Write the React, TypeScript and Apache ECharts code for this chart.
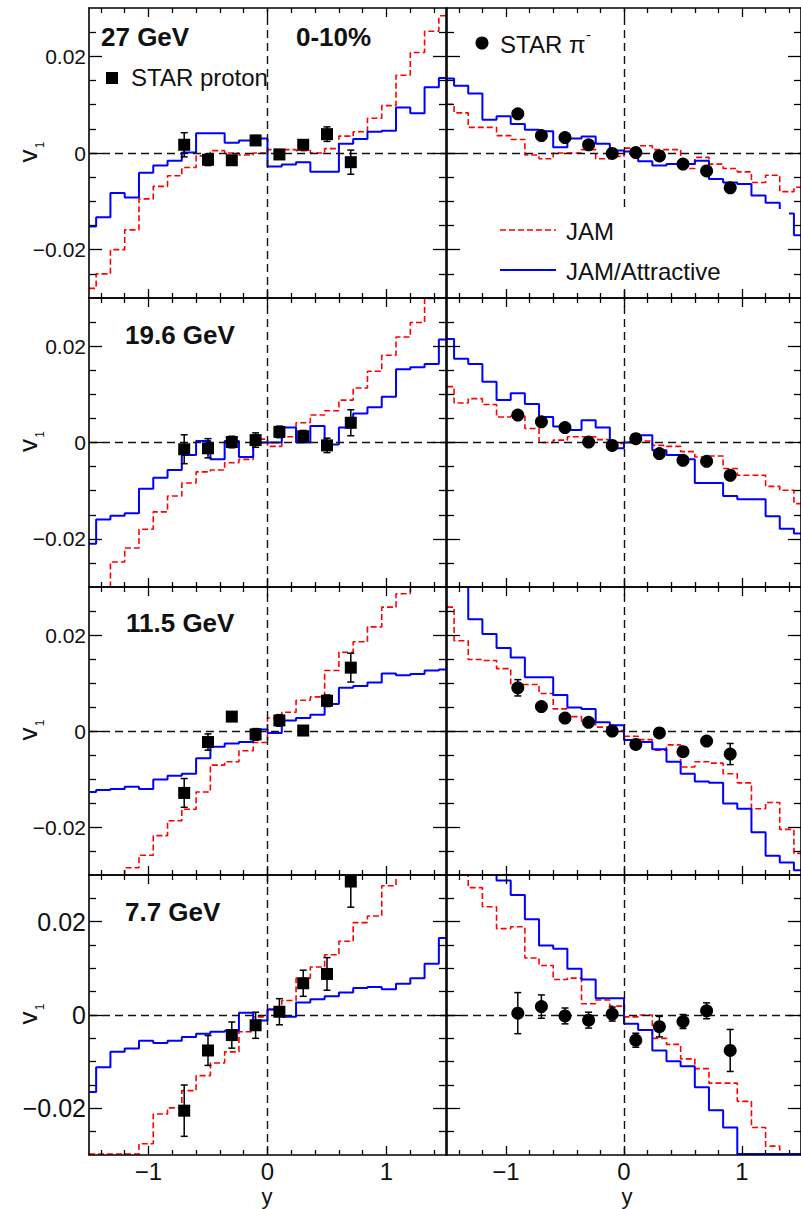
import React, { useEffect, useRef } from "react";
import * as echarts from "echarts";

// ---------- data ----------
const binCenters = [-1.5, -1.38, -1.26, -1.14, -1.02, -0.9, -0.78, -0.66, -0.54, -0.42, -0.3, -0.18, -0.06, 0.06, 0.18, 0.3, 0.42, 0.54, 0.66, 0.78, 0.9, 1.02, 1.14, 1.26, 1.38, 1.5];
const protonRapidity = [-0.7, -0.5, -0.3, -0.1, 0.1, 0.3, 0.5, 0.7];
const pionRapidity = [-0.9, -0.7, -0.5, -0.3, -0.1, 0.1, 0.3, 0.5, 0.7, 0.9];
const energyLabels = ["27 GeV", "19.6 GeV", "11.5 GeV", "7.7 GeV"];
const centralityLabel = "0-10%";

const xMajorTicks = [-1, 0, 1];
const xTickLabels = ["\u22121", "0", "1"];
const xMinorTicks = [-1.4, -1.2, -0.8, -0.6, -0.4, -0.2, 0.2, 0.4, 0.6, 0.8, 1.2, 1.4];
const yMajorTicks = [-0.02, 0, 0.02];
const yTickLabels = ["\u22120.02", "0", "0.02"];
const yMinorTicks = [-0.025, -0.015, -0.01, -0.005, 0.005, 0.01, 0.015, 0.025];

// 27 GeV
const jamProton27 = [-0.028, -0.025, -0.02, -0.0159, -0.0095, -0.0069, -0.0047, -0.003, -0.0006, 0.0005, 0.0, -0.0004, 0.0, 0.0007, 0.0007, 0.0005, 0.0, 0.0009, 0.0035, 0.0044, 0.0072, 0.0098, 0.0161, 0.0208, 0.0252, 0.0284];
const attProton27 = [-0.0152, -0.0133, -0.0083, -0.0092, -0.0041, -0.0026, -0.0016, 0.0001, 0.0041, 0.0041, 0.0021, 0.0026, 0.003, -0.0028, -0.0024, -0.0019, -0.0039, -0.0039, 0.0019, 0.0029, 0.0044, 0.0046, 0.0094, 0.0082, 0.0136, 0.0155];
const jamPion27 = [0.0101, 0.0083, 0.0053, 0.0053, 0.0036, 0.0028, -0.0004, -0.0012, 0.0, 0.0, 0.0007, -0.0012, -0.0007, 0.001, 0.0015, 0.0007, 0.0007, -0.0032, -0.0009, -0.0023, -0.0032, -0.0039, -0.0061, -0.0046, -0.008, -0.0071];
const attPion27 = [0.0154, 0.0139, 0.0123, 0.0069, 0.0076, 0.006, 0.0048, 0.0045, 0.0012, 0.003, 0.0034, 0.0019, 0.0005, 0.0003, -0.0017, -0.0026, -0.0023, -0.0023, -0.0016, -0.0054, -0.0061, -0.0064, -0.0088, -0.0103, -0.0125, -0.017];
const starProton27 = [0.0017, -0.0014, -0.0015, 0.0026, -0.0003, 0.0017, 0.0039, -0.0019];
const starProton27Err = [0.0025, 0.0012, 0.0008, 0.001, 0.0007, 0.0008, 0.0015, 0.0025];
const starPion27 = [0.0081, 0.0036, 0.0032, 0.0017, -0.0001, 0.0001, -0.0006, -0.0023, -0.0037, -0.0072];
const starPion27Err = [0.0006, 0.0005, 0.0005, 0.0005, 0.0004, 0.0004, 0.0005, 0.0005, 0.0006, 0.0007];

// 19.6 GeV
const jamProton196 = [-0.035, -0.033, -0.0248, -0.0219, -0.018, -0.0144, -0.0111, -0.0084, -0.0061, -0.0057, -0.0042, -0.0035, 0.0007, -0.0008, 0.0012, 0.0041, 0.0057, 0.0066, 0.0088, 0.0113, 0.0148, 0.0181, 0.0219, 0.0249, 0.0299, 0.034];
const attProton196 = [-0.021, -0.016, -0.0152, -0.0147, -0.0096, -0.0073, -0.0057, -0.0026, 0.0003, -0.0035, 0.0003, -0.003, 0.0, 0.0, 0.0031, 0.0, 0.0034, -0.0004, 0.0031, 0.006, 0.0073, 0.0095, 0.0152, 0.0156, 0.0163, 0.0214];
const jamPion196 = [0.0116, 0.0082, 0.0091, 0.0079, 0.0053, 0.0055, 0.0029, 0.0, 0.0005, 0.0012, 0.0012, 0.0006, -0.0002, 0.0001, 0.0003, -0.0006, -0.0008, -0.0019, -0.003, -0.0028, -0.0054, -0.0068, -0.0068, -0.0091, -0.0099, -0.0127];
const attPion196 = [0.0215, 0.0174, 0.0163, 0.0126, 0.0088, 0.0102, 0.008, 0.0053, 0.0033, 0.0026, 0.0046, 0.0031, -0.0012, 0.0, 0.0015, -0.0016, -0.0026, -0.0035, -0.0084, -0.0084, -0.0111, -0.0118, -0.0118, -0.0153, -0.0179, -0.0189];
const starProton196 = [-0.0014, -0.0012, 0.0001, 0.0005, 0.0022, 0.0013, -0.0006, 0.0041];
const starProton196Err = [0.003, 0.002, 0.0012, 0.0015, 0.0012, 0.0012, 0.0015, 0.0027];
const starPion196 = [0.0057, 0.0043, 0.0031, 0.0001, -0.0006, 0.0008, -0.0023, -0.0037, -0.0039, -0.0068];
const starPion196Err = [0.0009, 0.0006, 0.0006, 0.0005, 0.0005, 0.0005, 0.0005, 0.0006, 0.0007, 0.0009];

// 11.5 GeV
const jamProton115 = [-0.034, -0.033, -0.031, -0.0285, -0.0259, -0.0218, -0.0187, -0.0163, -0.0127, -0.0071, -0.0064, -0.0041, -0.0024, 0.0027, 0.0039, 0.0064, 0.0071, 0.0126, 0.0164, 0.0186, 0.0217, 0.0258, 0.0286, 0.031, 0.033, 0.035];
const attProton115 = [-0.0127, -0.0123, -0.0121, -0.0116, -0.0121, -0.0101, -0.0093, -0.0089, -0.0057, -0.0033, -0.0026, -0.0023, 0.0003, -0.0004, 0.0022, 0.0027, 0.0034, 0.0056, 0.009, 0.0094, 0.0101, 0.012, 0.0116, 0.0119, 0.0126, 0.0128];
const jamPion115 = [0.0258, 0.0188, 0.0149, 0.0147, 0.013, 0.0097, 0.0097, 0.0078, 0.0046, 0.003, 0.0015, 0.0008, 0.0001, -0.0011, -0.0018, -0.004, -0.0029, -0.0075, -0.0064, -0.0067, -0.0089, -0.0108, -0.0162, -0.0149, -0.0205, -0.0255];
const attPion115 = [0.035, 0.033, 0.0233, 0.0202, 0.0173, 0.0153, 0.0112, 0.0112, 0.0075, 0.0049, 0.0046, 0.0018, 0.0012, -0.0019, -0.0023, -0.0038, -0.0064, -0.0089, -0.0105, -0.0108, -0.0151, -0.0162, -0.0211, -0.026, -0.0274, -0.029];
const starProton115 = [-0.0129, -0.0023, 0.003, -0.0007, 0.0022, 0.0001, 0.0063, 0.0132];
const starProton115Err = [0.003, 0.0017, 0.0008, 0.0012, 0.0012, 0.001, 0.0012, 0.003];
const starPion115 = [0.009, 0.0051, 0.0027, 0.0018, 0.0, -0.0028, -0.0004, -0.0043, -0.0021, -0.0048];
const starPion115Err = [0.0017, 0.0007, 0.0006, 0.0009, 0.0006, 0.0006, 0.0007, 0.001, 0.0007, 0.0022];

// 7.7 GeV
const jamProton77 = [-0.0298, -0.0298, -0.0298, -0.0298, -0.0276, -0.0212, -0.0199, -0.0162, -0.013, -0.0103, -0.0079, -0.0036, -0.0004, 0.0012, 0.0031, 0.0079, 0.0103, 0.0129, 0.0158, 0.0198, 0.0212, 0.0277, 0.033, 0.034, 0.035, 0.036];
const attProton77 = [-0.0165, -0.0112, -0.0079, -0.0072, -0.0055, -0.006, -0.0055, -0.0047, -0.004, -0.0036, -0.0034, 0.0005, -0.0012, 0.0012, -0.0004, 0.0027, 0.0034, 0.004, 0.0048, 0.0058, 0.006, 0.0055, 0.0067, 0.0079, 0.011, 0.0165];
const jamPion77 = [0.034, 0.033, 0.0273, 0.0232, 0.0185, 0.0189, 0.0122, 0.0106, 0.0076, 0.0079, 0.0024, 0.0032, 0.0019, -0.0004, 0.0, -0.005, -0.0063, -0.0094, -0.0115, -0.0146, -0.0146, -0.0185, -0.0241, -0.0281, -0.0298, -0.0298];
const attPion77 = [0.034, 0.034, 0.034, 0.031, 0.0288, 0.0257, 0.0205, 0.0149, 0.0142, 0.0099, 0.0076, 0.0036, 0.0036, -0.0019, -0.0032, -0.0076, -0.0099, -0.011, -0.0155, -0.0204, -0.0241, -0.0298, -0.0298, -0.0298, -0.0298, -0.0298];
const starProton77 = [-0.0205, -0.0076, -0.0043, -0.0022, 0.0007, 0.0068, 0.0088, 0.0286];
const starProton77Err = [0.0055, 0.0032, 0.0028, 0.0028, 0.0028, 0.0028, 0.0035, 0.0055];
const starPion77 = [0.0004, 0.0018, -0.0002, -0.0011, 0.0002, -0.0054, -0.0025, -0.0014, 0.0009, -0.0076];
const starPion77Err = [0.0044, 0.0025, 0.0017, 0.0017, 0.0015, 0.0015, 0.0022, 0.0015, 0.0017, 0.0045];

const panelData = [
  { jamP: jamProton27, attP: attProton27, jamPi: jamPion27, attPi: attPion27, p: starProton27, pErr: starProton27Err, pi: starPion27, piErr: starPion27Err },
  { jamP: jamProton196, attP: attProton196, jamPi: jamPion196, attPi: attPion196, p: starProton196, pErr: starProton196Err, pi: starPion196, piErr: starPion196Err },
  { jamP: jamProton115, attP: attProton115, jamPi: jamPion115, attPi: attPion115, p: starProton115, pErr: starProton115Err, pi: starPion115, piErr: starPion115Err },
  { jamP: jamProton77, attP: attProton77, jamPi: jamPion77, attPi: attPion77, p: starProton77, pErr: starProton77Err, pi: starPion77, piErr: starPion77Err },
];

// ---------- layout ----------
const FONT = '"Liberation Sans", Arial, Helvetica, sans-serif';
const rowBoxes = [
  { top: 8, height: 290 },
  { top: 298, height: 289 },
  { top: 587, height: 288 },
  { top: 875, height: 280 },
];
const colBoxes = [
  { left: 89, width: 357 },
  { left: 447, width: 361 },
];

function labelFor(values: number[], labels: string[], v: number) {
  const i = values.findIndex((t) => Math.abs(t - v) < 1e-9);
  return i >= 0 ? labels[i] : "";
}

function buildOption() {
  const grids: any[] = [];
  const xAxes: any[] = [];
  const yAxes: any[] = [];
  const series: any[] = [];
  const graphics: any[] = [];

  rowBoxes.forEach((rb, r) => {
    colBoxes.forEach((cb, c) => {
      const g = r * 2 + c;
      grids.push({ left: cb.left, top: rb.top, width: cb.width, height: rb.height, show: false });
      const isBottom = r === 3;
      const xa = (position: string, ticks: number[], len: number, line: boolean, label: boolean) => ({
        type: "value",
        gridIndex: g,
        position,
        min: -1.5,
        max: 1.5,
        z: 10,
        axisLine: { show: line, onZero: false, lineStyle: { color: "#000", width: 1.6 } },
        axisTick: { show: true, inside: true, length: len, customValues: ticks, lineStyle: { color: "#000", width: 1.3 } },
        axisLabel: {
          show: label,
          customValues: xMajorTicks,
          margin: 4,
          fontSize: 24,
          fontFamily: FONT,
          color: "#111",
          formatter: (v: number) => labelFor(xMajorTicks, xTickLabels, v),
        },
        splitLine: { show: false },
      });
      xAxes.push(
        xa("bottom", xMajorTicks, 9, true, isBottom),
        xa("bottom", xMinorTicks, 5, false, false),
        xa("top", xMajorTicks, 9, true, false),
        xa("top", xMinorTicks, 5, false, false)
      );
      const ya = (position: string, ticks: number[], len: number, line: boolean, label: boolean) => ({
        type: "value",
        gridIndex: g,
        position,
        min: -0.03,
        max: 0.03,
        z: 10,
        axisLine: { show: line, onZero: false, lineStyle: { color: "#000", width: 1.6 } },
        axisTick: { show: true, inside: true, length: len, customValues: ticks, lineStyle: { color: "#000", width: 1.3 } },
        axisLabel: {
          show: label,
          customValues: yMajorTicks,
          margin: 3,
          fontSize: isBottom ? 25 : 21,
          fontFamily: FONT,
          color: "#111",
          formatter: (v: number) => labelFor(yMajorTicks, yTickLabels, v),
        },
        splitLine: { show: false },
      });
      yAxes.push(
        ya("left", yMajorTicks, 13, true, c === 0),
        ya("left", yMinorTicks, 7, false, false),
        ya("right", yMajorTicks, 13, true, false),
        ya("right", yMinorTicks, 7, false, false)
      );

      const pd = panelData[r];
      const jam = c === 0 ? pd.jamP : pd.jamPi;
      const att = c === 0 ? pd.attP : pd.attPi;
      const xs = c === 0 ? protonRapidity : pionRapidity;
      const vals = c === 0 ? pd.p : pd.pi;
      const errs = c === 0 ? pd.pErr : pd.piErr;
      const ax = { xAxisIndex: g * 4, yAxisIndex: g * 4 };

      series.push({
        type: "line",
        ...ax,
        name: "JAM",
        step: "middle",
        symbol: "none",
        clip: true,
        silent: true,
        z: 3,
        lineStyle: { color: "#ff0000", width: 1.6, type: [6, 3] },
        data: binCenters.map((x, i) => [x, jam[i]]),
        markLine: {
          silent: true,
          symbol: ["none", "none"],
          label: { show: false },
          lineStyle: { color: "#111", width: 1.4, type: [8, 5] },
          data: [{ yAxis: 0 }, { xAxis: 0 }],
        },
      });
      series.push({
        type: "line",
        ...ax,
        name: "JAM/Attractive",
        step: "middle",
        symbol: "none",
        clip: true,
        silent: true,
        z: 4,
        lineStyle: { color: "#0000ff", width: 2 },
        data: binCenters.map((x, i) => [x, att[i]]),
      });
      series.push({
        type: "custom",
        ...ax,
        coordinateSystem: "cartesian2d",
        clip: true,
        silent: true,
        z: 5,
        encode: { x: 0, y: [1, 2] },
        data: xs.map((x, i) => [x, vals[i] - errs[i], vals[i] + errs[i]]),
        renderItem: (_params: any, api: any) => {
          const x = api.value(0);
          const a = api.coord([x, api.value(1)]);
          const b = api.coord([x, api.value(2)]);
          const cw = 3.5;
          const st = { stroke: "#000", lineWidth: 1.5 };
          return {
            type: "group",
            children: [
              { type: "line", shape: { x1: a[0], y1: a[1], x2: b[0], y2: b[1] }, style: st },
              { type: "line", shape: { x1: a[0] - cw, y1: a[1], x2: a[0] + cw, y2: a[1] }, style: st },
              { type: "line", shape: { x1: b[0] - cw, y1: b[1], x2: b[0] + cw, y2: b[1] }, style: st },
            ],
          };
        },
      });
      series.push({
        type: "scatter",
        ...ax,
        name: c === 0 ? "STAR proton" : "STAR pion",
        symbol: c === 0 ? "rect" : "circle",
        symbolSize: c === 0 ? 12 : 13,
        clip: true,
        silent: true,
        z: 6,
        itemStyle: { color: "#000", opacity: 1 },
        data: xs.map((x, i) => [x, vals[i]]),
      });
    });

    // row texts
    const zeroY = rb.top + rb.height / 2;
    const labelPos = [
      { x: 101, y: 37 },
      { x: 125, y: 335 },
      { x: 126, y: 623 },
      { x: 125, y: 912 },
    ][r];
    graphics.push({
      type: "text",
      x: labelPos.x,
      y: labelPos.y,
      z: 20,
      silent: true,
      style: { text: energyLabels[r], fontSize: 26, fontWeight: "bold", fontFamily: FONT, fill: "#111", align: "left", verticalAlign: "middle" },
    });
    graphics.push({
      type: "group",
      x: 28,
      y: zeroY + 3,
      rotation: Math.PI / 2,
      z: 20,
      silent: true,
      children: [
        { type: "text", x: 0, y: 0, z: 20, style: { text: "v", fontSize: 26, fontFamily: FONT, fill: "#111", align: "center", verticalAlign: "middle" } },
        { type: "text", x: 11, y: 12, z: 20, style: { text: "1", fontSize: 12, fontFamily: FONT, fill: "#111", align: "center", verticalAlign: "middle" } },
      ],
    });
  });

  const txt = (x: number, y: number, text: string, size: number, bold = false, align = "left") => ({
    type: "text",
    x,
    y,
    z: 20,
    silent: true,
    style: { text, fontSize: size, fontWeight: bold ? "bold" : "normal", fontFamily: FONT, fill: "#111", align, verticalAlign: "middle" },
  });

  graphics.push(txt(296, 37, centralityLabel, 26, true));
  graphics.push({ type: "rect", z: 20, silent: true, shape: { x: 106, y: 72, width: 12, height: 12 }, style: { fill: "#000" } });
  graphics.push(txt(131, 77, "STAR proton", 24));
  graphics.push({ type: "circle", z: 20, silent: true, shape: { cx: 482, cy: 43, r: 6.5 }, style: { fill: "#000" } });
  graphics.push(txt(500, 44, "STAR \u03c0", 24));
  graphics.push(txt(586, 34, "-", 15));
  // legend box
  graphics.push({ type: "rect", z: 8, silent: true, shape: { x: 478, y: 209, width: 311, height: 79 }, style: { fill: "#fff" } });
  graphics.push({ type: "line", z: 20, silent: true, shape: { x1: 500, y1: 230, x2: 556, y2: 230 }, style: { stroke: "#ff0000", lineWidth: 1.6, lineDash: [6, 3] } });
  graphics.push(txt(566, 231, "JAM", 24));
  graphics.push({ type: "line", z: 20, silent: true, shape: { x1: 500, y1: 270, x2: 556, y2: 270 }, style: { stroke: "#0000ff", lineWidth: 2 } });
  graphics.push(txt(566, 271, "JAM/Attractive", 24));
  // x titles
  graphics.push(txt(267, 1196, "y", 22, false, "center"));
  graphics.push(txt(627, 1196, "y", 22, false, "center"));

  return {
    animation: false,
    backgroundColor: "#fff",
    grid: grids,
    xAxis: xAxes,
    yAxis: yAxes,
    series,
    graphic: { elements: graphics },
  };
}

export default function App() {
  const ref = useRef<HTMLDivElement>(null);
  useEffect(() => {
    if (!ref.current) return;
    const chart = echarts.init(ref.current, null, { renderer: "svg" });
    chart.setOption(buildOption() as any);
    return () => chart.dispose();
  }, []);
  return (
    <div
      ref={ref}
      style={{ position: "absolute", left: 0, top: 0, width: 801, height: 1209, background: "#fff" }}
    />
  );
}
